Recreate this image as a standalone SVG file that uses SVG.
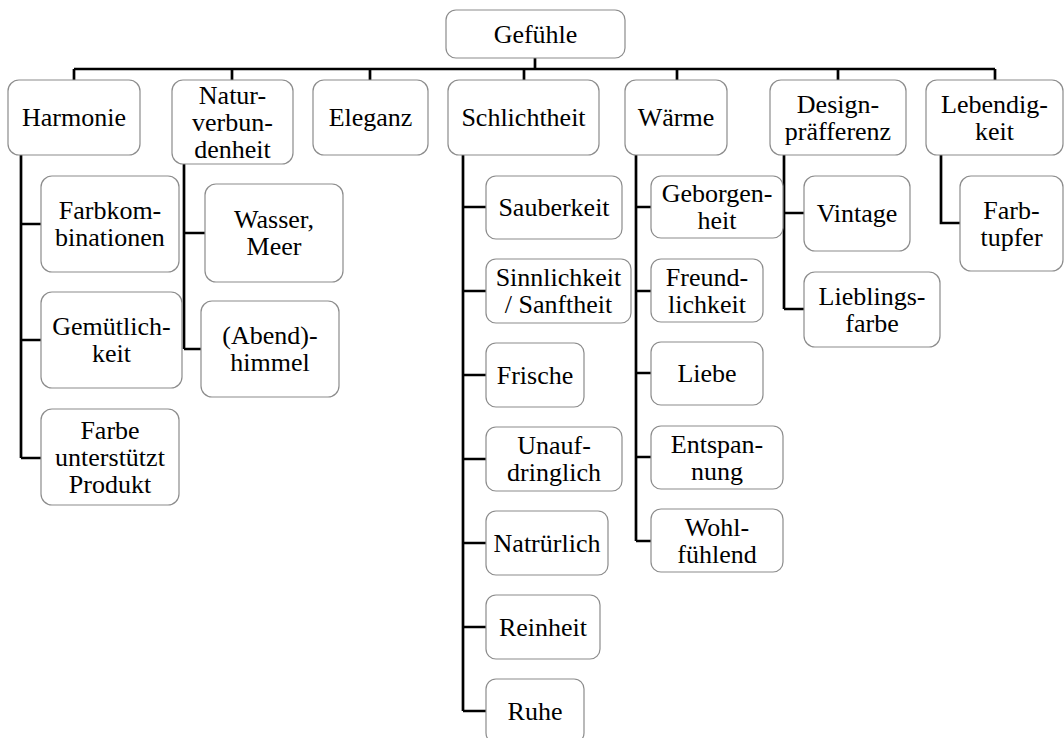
<svg xmlns="http://www.w3.org/2000/svg" width="1064" height="738" viewBox="0 0 1064 738">
<style>
.n rect{fill:#fff;stroke:#8c8c8c;stroke-width:1.2}
.c path{fill:none;stroke:#000;stroke-width:2.7}
</style>
<rect width="1064" height="738" fill="#fff"/>
<g id="connectors" class="c">
<path d="M535,58V69M74,69H995M74,69V80M232,69V80M370,69V80M524,69V80M677,69V80M838,69V80M995,69V80"/>
<path d="M21,155V458M21,224H41M21,340H41M21,458H41"/>
<path d="M184,164V349M184,233H205M184,349H201"/>
<path d="M463,155V711M463,207H486M463,291H486M463,375H486M463,459H486M463,543H486M463,627H486M463,711H486"/>
<path d="M636,155V541M636,207H651M636,291H651M636,373H651M636,457H651M636,541H651"/>
<path d="M784,155V309M784,213H804M784,309H804"/>
<path d="M941,155V223H960"/>
</g>
<g id="n-gefuehle" class="n"><rect x="446" y="10" width="179" height="48" rx="10"/><text style="font-family:'Liberation Serif','Times New Roman',serif;font-size:26px" text-anchor="middle" x="535.5" y="42.8">Gefühle</text></g>
<g id="n-harmonie" class="n"><rect x="8" y="80" width="132" height="75" rx="11"/><text style="font-family:'Liberation Serif','Times New Roman',serif;font-size:26px" text-anchor="middle" x="74" y="126.3">Harmonie</text></g>
<g id="n-natur" class="n"><rect x="172" y="80" width="121" height="84" rx="11"/><text style="font-family:'Liberation Serif','Times New Roman',serif;font-size:26px" text-anchor="middle" x="232.5" y="103.8">Natur-<tspan x="232.5" y="130.8">verbun-</tspan><tspan x="232.5" y="157.8">denheit</tspan></text></g>
<g id="n-eleganz" class="n"><rect x="313" y="80" width="115" height="75" rx="11"/><text style="font-family:'Liberation Serif','Times New Roman',serif;font-size:26px" text-anchor="middle" x="370.5" y="126.3">Eleganz</text></g>
<g id="n-schlichtheit" class="n"><rect x="448" y="80" width="151" height="75" rx="11"/><text style="font-family:'Liberation Serif','Times New Roman',serif;font-size:26px" text-anchor="middle" x="523.5" y="126.3">Schlichtheit</text></g>
<g id="n-waerme" class="n"><rect x="625" y="80" width="102" height="75" rx="11"/><text style="font-family:'Liberation Serif','Times New Roman',serif;font-size:26px" text-anchor="middle" x="676" y="126.3">Wärme</text></g>
<g id="n-design" class="n"><rect x="770" y="80" width="136" height="75" rx="11"/><text style="font-family:'Liberation Serif','Times New Roman',serif;font-size:26px" text-anchor="middle" x="838" y="112.8">Design-<tspan x="838" y="139.8">präfferenz</tspan></text></g>
<g id="n-lebendigkeit" class="n"><rect x="926" y="80" width="137" height="75" rx="11"/><text style="font-family:'Liberation Serif','Times New Roman',serif;font-size:26px" text-anchor="middle" x="994.5" y="112.8">Lebendig-<tspan x="994.5" y="139.8">keit</tspan></text></g>
<g id="n-farbkombinationen" class="n"><rect x="41" y="176" width="138" height="96" rx="11"/><text style="font-family:'Liberation Serif','Times New Roman',serif;font-size:26px" text-anchor="middle" x="110" y="219.3">Farbkom-<tspan x="110" y="246.3">binationen</tspan></text></g>
<g id="n-gemuetlichkeit" class="n"><rect x="41" y="292" width="141" height="96" rx="11"/><text style="font-family:'Liberation Serif','Times New Roman',serif;font-size:26px" text-anchor="middle" x="111.5" y="335.3">Gemütlich-<tspan x="111.5" y="362.3">keit</tspan></text></g>
<g id="n-farbe" class="n"><rect x="41" y="409" width="138" height="96" rx="11"/><text style="font-family:'Liberation Serif','Times New Roman',serif;font-size:26px" text-anchor="middle" x="110" y="438.8">Farbe<tspan x="110" y="465.8">unterstützt</tspan><tspan x="110" y="492.8">Produkt</tspan></text></g>
<g id="n-wasser" class="n"><rect x="205" y="184" width="138" height="98" rx="11"/><text style="font-family:'Liberation Serif','Times New Roman',serif;font-size:26px" text-anchor="middle" x="274" y="228.3">Wasser,<tspan x="274" y="255.3">Meer</tspan></text></g>
<g id="n-abendhimmel" class="n"><rect x="201" y="301" width="138" height="96" rx="11"/><text style="font-family:'Liberation Serif','Times New Roman',serif;font-size:26px" text-anchor="middle" x="270" y="344.3">(Abend)-<tspan x="270" y="371.3">himmel</tspan></text></g>
<g id="n-sauberkeit" class="n"><rect x="486" y="176" width="136" height="63" rx="10"/><text style="font-family:'Liberation Serif','Times New Roman',serif;font-size:26px" text-anchor="middle" x="554" y="216.3">Sauberkeit</text></g>
<g id="n-sinnlichkeit" class="n"><rect x="486" y="259" width="145" height="64" rx="10"/><text style="font-family:'Liberation Serif','Times New Roman',serif;font-size:26px" text-anchor="middle" x="558.5" y="286.3">Sinnlichkeit<tspan x="558.5" y="313.3">/ Sanftheit</tspan></text></g>
<g id="n-frische" class="n"><rect x="486" y="343" width="98" height="64" rx="10"/><text style="font-family:'Liberation Serif','Times New Roman',serif;font-size:26px" text-anchor="middle" x="535" y="383.8">Frische</text></g>
<g id="n-unaufdringlich" class="n"><rect x="486" y="427" width="136" height="64" rx="10"/><text style="font-family:'Liberation Serif','Times New Roman',serif;font-size:26px" text-anchor="middle" x="554" y="454.3">Unauf-<tspan x="554" y="481.3">dringlich</tspan></text></g>
<g id="n-natruerlich" class="n"><rect x="486" y="511" width="122" height="64" rx="10"/><text style="font-family:'Liberation Serif','Times New Roman',serif;font-size:26px" text-anchor="middle" x="547" y="551.8">Natrürlich</text></g>
<g id="n-reinheit" class="n"><rect x="486" y="595" width="114" height="64" rx="10"/><text style="font-family:'Liberation Serif','Times New Roman',serif;font-size:26px" text-anchor="middle" x="543" y="635.8">Reinheit</text></g>
<g id="n-ruhe" class="n"><rect x="486" y="679" width="98" height="64" rx="10"/><text style="font-family:'Liberation Serif','Times New Roman',serif;font-size:26px" text-anchor="middle" x="535" y="719.8">Ruhe</text></g>
<g id="n-geborgenheit" class="n"><rect x="651" y="176" width="132" height="62" rx="10"/><text style="font-family:'Liberation Serif','Times New Roman',serif;font-size:26px" text-anchor="middle" x="717" y="202.3">Geborgen-<tspan x="717" y="229.3">heit</tspan></text></g>
<g id="n-freundlichkeit" class="n"><rect x="651" y="259" width="112" height="63" rx="10"/><text style="font-family:'Liberation Serif','Times New Roman',serif;font-size:26px" text-anchor="middle" x="707" y="285.8">Freund-<tspan x="707" y="312.8">lichkeit</tspan></text></g>
<g id="n-liebe" class="n"><rect x="651" y="342" width="112" height="63" rx="10"/><text style="font-family:'Liberation Serif','Times New Roman',serif;font-size:26px" text-anchor="middle" x="707" y="382.3">Liebe</text></g>
<g id="n-entspannung" class="n"><rect x="651" y="426" width="132" height="63" rx="10"/><text style="font-family:'Liberation Serif','Times New Roman',serif;font-size:26px" text-anchor="middle" x="717" y="452.8">Entspan-<tspan x="717" y="479.8">nung</tspan></text></g>
<g id="n-wohlfuehlend" class="n"><rect x="651" y="509" width="132" height="63" rx="10"/><text style="font-family:'Liberation Serif','Times New Roman',serif;font-size:26px" text-anchor="middle" x="717" y="535.8">Wohl-<tspan x="717" y="562.8">fühlend</tspan></text></g>
<g id="n-vintage" class="n"><rect x="804" y="176" width="106" height="75" rx="11"/><text style="font-family:'Liberation Serif','Times New Roman',serif;font-size:26px" text-anchor="middle" x="857" y="222.3">Vintage</text></g>
<g id="n-lieblingsfarbe" class="n"><rect x="804" y="272" width="136" height="75" rx="11"/><text style="font-family:'Liberation Serif','Times New Roman',serif;font-size:26px" text-anchor="middle" x="872" y="304.8">Lieblings-<tspan x="872" y="331.8">farbe</tspan></text></g>
<g id="n-farbtupfer" class="n"><rect x="960" y="176" width="103" height="95" rx="11"/><text style="font-family:'Liberation Serif','Times New Roman',serif;font-size:26px" text-anchor="middle" x="1011.5" y="218.8">Farb-<tspan x="1011.5" y="245.8">tupfer</tspan></text></g>
</svg>
